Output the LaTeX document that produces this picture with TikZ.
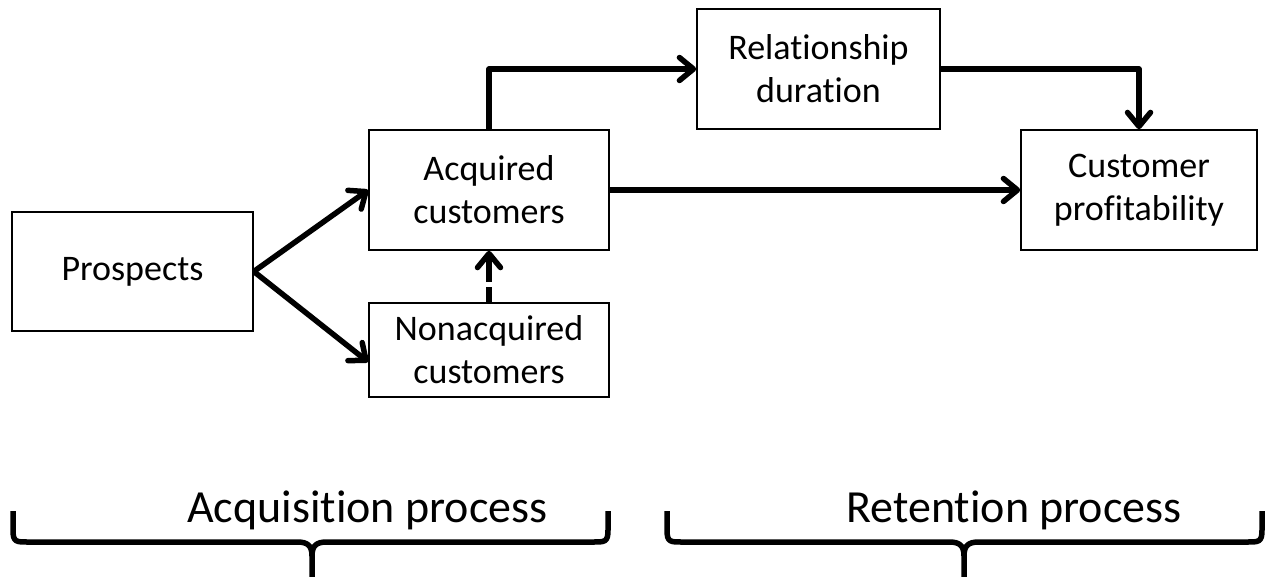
\documentclass[tikz,border=0pt]{standalone}
\usepackage{fontspec}
\setmainfont{Carlito}[Ligatures={NoCommon}]
\usetikzlibrary{arrows.meta,calc}
\begin{document}
\begin{tikzpicture}[x=1pt,y=-1pt,
  box/.style={draw,line width=1.6pt,inner sep=0pt,align=center,
    font=\fontsize{36}{43}\selectfont},
  flow/.style={line width=5.5pt,line join=round,
    -{Straight Barb[length=14pt,width=23pt,round]}},
  bracket/.style={line width=5.5pt,line join=round},
  caption/.style={anchor=base,inner sep=0pt,font=\fontsize{46}{55}\selectfont}]
\useasboundingbox (0,0) rectangle (1269,576);

% boxes
\node[box,minimum width=241pt,minimum height=119pt] (P) at (132.5,271.5) {Prospects};
\node[box,minimum width=240pt,minimum height=120pt] (A) at (489,190) {Acquired\\customers};
\node[box,minimum width=240pt,minimum height=94pt] (N) at (489,350) {Nonacquired\\customers};
\node[box,minimum width=243pt,minimum height=120pt] (R) at (818.5,69) {Relationship\\duration};
\node[box,minimum width=236pt,minimum height=120pt] (C) at (1139,190) {Customer\\profitability};

% connectors
\coordinate (Nin) at ([yshift=-12pt]N.west);
\draw[flow] (P.east) -- (A.west);
\draw[flow] (P.east) -- (Nin);
\draw[flow,dash pattern=on 15pt off 5pt on 200pt] (N.north) -- (A.south);
\draw[flow] (A.north) |- (R.west);
\draw[flow] (R.east) -| (C.north);
\draw[flow] (A.east) -- (C.west);

% braces
\draw[bracket] (13,511) -- (13,530) .. controls (13,542) and (16,542) .. (28,542)
  -- (297,542) .. controls (307,542) and (312,545) .. (312,556) -- (312,580);
\draw[bracket] (608,511) -- (608,530) .. controls (608,542) and (605,542) .. (593,542)
  -- (327,542) .. controls (317,542) and (312,545) .. (312,556);
\draw[bracket] (667,511) -- (667,530) .. controls (667,542) and (670,542) .. (682,542)
  -- (949,542) .. controls (959,542) and (964,545) .. (964,556) -- (964,580);
\draw[bracket] (1262,511) -- (1262,530) .. controls (1262,542) and (1259,542) .. (1247,542)
  -- (979,542) .. controls (969,542) and (964,545) .. (964,556);

% captions
\node[caption] (acq) at (367.5,522) {Acquisition process};
\node[caption] (ret) at (1014,522) {Retention process};
\end{tikzpicture}
\end{document}
